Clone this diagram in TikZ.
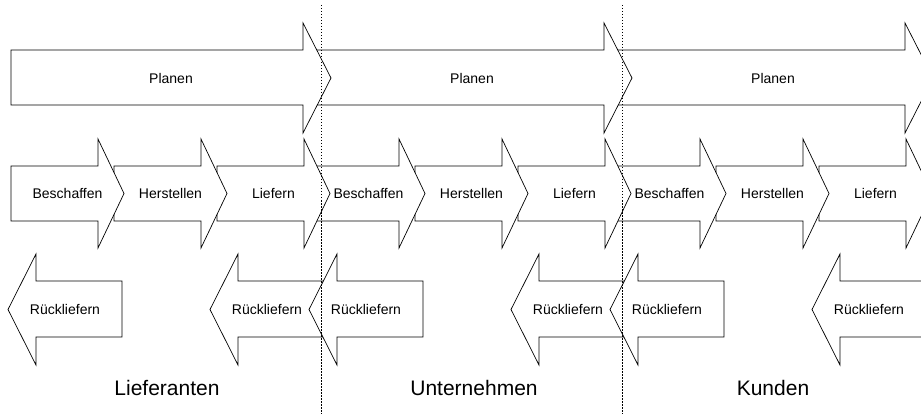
\documentclass[tikz,border=0pt]{standalone}
\usepackage{fontspec}
\setmainfont{Liberation Sans}

\begin{document}
\begin{tikzpicture}[
  x=1pt, y=-1pt,
  every node/.append style={font=\fontsize{14}{16}\selectfont},
  shaft/.style={draw, line width=0.7pt, fill=white, line join=miter},
  border/.style={draw, line width=0.6pt, dash pattern=on 1.5pt off 1.5pt},
  stepname/.style={inner sep=0pt, anchor=center},
  party/.style={inner sep=0pt, anchor=center, font=\fontsize{21}{24}\selectfont},
]
\clip (0,0) rectangle (921,414);

% ------------------------------------------------------------ planen
% One long arrow per party, drawn right to left so that each head lies
% over the start of the next one.
\foreach \g in {2,1,0}{
  \pgfmathsetmacro\sx{11+301*\g}
  \draw[shaft] (\sx,50) -- ++(292,0) -- ++(0,-27) -- ++(28,55)
    -- ++(-28,55) -- ++(0,-28) -- ++(-292,0) -- cycle;
  \node[stepname] (plan\g) at (\sx+160,78) {Planen};
}

% ------------------------------------------------ the three steps
\foreach \g in {2,1,0}{
  \foreach \i/\t in {2/Liefern, 1/Herstellen, 0/Beschaffen}{
    \pgfmathsetmacro\sx{11+301*\g+103*\i}
    \draw[shaft] (\sx,166) -- ++(87,0) -- ++(0,-27) -- ++(26,54.5)
      -- ++(-26,54.5) -- ++(0,-27) -- ++(-87,0) -- cycle;
    \node[stepname] (step\g\i) at (\sx+56.5,193.5) {\t};
  }
}

% ------------------------------------------------------ returns
% These point left, so the order is left to right.
\foreach \g in {0,1,2}{
  \foreach \tx [count=\j] in {8,210}{
    \pgfmathsetmacro\px{\tx+301*\g}
    \draw[shaft] (\px,309.5) -- ++(28,-55.5) -- ++(0,27) -- ++(86,0)
      -- ++(0,56) -- ++(-86,0) -- ++(0,28) -- cycle;
    \node[stepname] (back\g\j) at (\px+57,309.5) {Rückliefern};
  }
}

% ------------------------------------------------ party borders
\coordinate (sepA) at (321,5);
\coordinate (sepB) at (622,5);
\draw[border] (sepA) -- (sepA |- 0,414);
\draw[border] (sepB) -- (sepB |- 0,414);

\node[party] (lief) at (167,388) {Lieferanten};
\node[party] (unt) at (474,388) {Unternehmen};
\node[party] (kund) at (773,388) {Kunden};

\end{tikzpicture}
\end{document}
